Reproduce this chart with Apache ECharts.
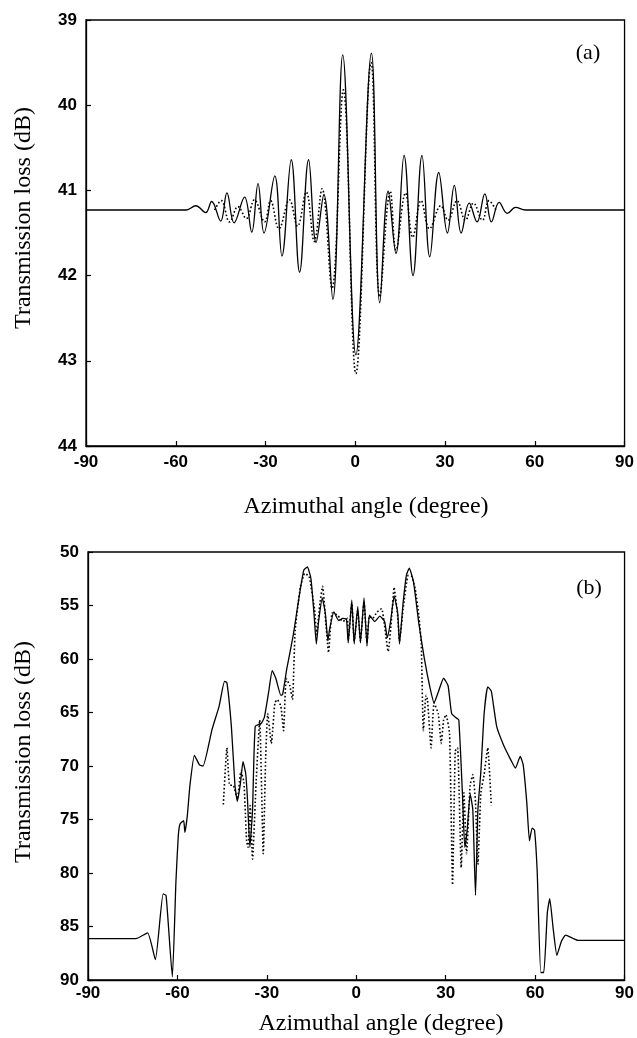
<!DOCTYPE html>
<html>
<head>
<meta charset="utf-8">
<script src="https://cdn.jsdelivr.net/npm/echarts@6/dist/echarts.min.js"></script>
<style>html,body{margin:0;padding:0;background:#fff}#chart{width:637px;height:1038px}</style>
</head>
<body>
<div id="chart"></div>
<script>
// Panel (a): [azimuth deg, transmission loss dB]
const panelASolid = [[-90,41.23],[-56.5,41.23],[-53.3,41.18],[-50,41.26],[-48,41.13],[-45,41.36],[-42.9,41.03],[-40.5,41.38],[-37,41.08],[-34.6,41.49],[-32.5,40.92],[-30.5,41.5],[-26.9,40.83],[-24.5,41.77],[-21.4,40.64],[-18.6,41.96],[-15.6,40.64],[-13.1,41.61],[-10.5,41.05],[-7.5,42.28],[-4.2,39.41],[0.2,42.93],[5.4,39.39],[8.2,42.32],[11,41.01],[13.6,41.74],[16.3,40.59],[19.3,42.0],[22.3,40.59],[24.9,41.78],[27.9,40.79],[30.8,41.5],[33.1,40.94],[35.4,41.5],[38.1,41.15],[40.7,41.37],[43.3,41.04],[45.5,41.37],[48.1,41.14],[50.8,41.27],[53.6,41.2],[56.8,41.23],[90,41.23]];
const panelADotted = [[-47,41.23],[-44.8,41.12],[-42,41.37],[-39.2,41.19],[-36.4,41.33],[-33.7,41.11],[-30.3,41.37],[-28.3,41.12],[-25.5,41.45],[-22,41.11],[-19.3,41.42],[-16.4,41.02],[-13.7,41.6],[-11.1,40.98],[-7.8,42.15],[-4.0,39.82],[0.2,43.15],[5.3,39.5],[8.2,42.25],[11.7,41.01],[13.6,41.7],[16.8,41.03],[19.2,41.55],[22,41.12],[24.8,41.45],[28.6,41.18],[31,41.35],[34,41.12],[36.8,41.35],[39.5,41.15],[42.5,41.35],[44.7,41.12],[47,41.23]];

// Panel (b)
const panelBSolid = [[-90,86.13],[-73.9,86.13],[-70,85.6],[-67.4,88.1],[-64.8,81.95],[-63.8,82.1],[-61.7,89.7],[-60.5,80.8],[-59.7,76.5],[-59.1,75.4],[-57.9,75.1],[-57.5,76.2],[-56.7,74.7],[-55.8,71.8],[-54.3,69.0],[-52.6,69.9],[-51.4,70.0],[-48.4,66.6],[-46,64.4],[-44.2,62.1],[-43.4,62.2],[-41.9,66.3],[-40.7,71.8],[-39.9,73.3],[-38.9,71.7],[-38,69.6],[-37.1,70.7],[-36.5,73.1],[-35.7,77.6],[-34.8,74.1],[-33.9,66.3],[-31.8,66.0],[-30.8,65.4],[-29.4,63.1],[-28.2,61.1],[-27,61.8],[-25.3,63.4],[-24.7,63.3],[-23.3,60.9],[-21.1,57.7],[-19.3,54.4],[-17.6,51.7],[-16.4,51.4],[-15.2,52.5],[-14.2,55.7],[-13.4,58.6],[-12.6,56.4],[-11.4,54.3],[-10.4,55.7],[-9.5,58.3],[-9,57.3],[-7.5,55.6],[-5.9,56.4],[-4.5,56.2],[-3.3,56.3],[-2.7,58.5],[-1.5,54.5],[-0.7,58.6],[0.5,55.1],[1.4,58.5],[2.6,54.3],[3.6,58.8],[4.4,55.9],[6.2,56.5],[7.9,56.0],[9.5,56.5],[10.4,58.0],[11.5,56.5],[12.7,54.1],[13.9,55.7],[14.5,58.6],[15.7,54.8],[16.8,52.2],[17.8,51.5],[19.2,52.8],[21,56.7],[22.8,59.9],[24.6,62.5],[26.1,64.1],[27.5,63.1],[29.3,61.8],[30.8,62.5],[32,65.1],[33.5,65.5],[34.4,65.7],[35.6,72.5],[36.4,77.6],[37.2,76.0],[38.2,72.6],[39.1,74.1],[40,82.1],[40.8,74.1],[41.8,70.5],[42.9,65.1],[44.1,62.6],[45.3,63.0],[47.1,66.3],[49.5,68.1],[51.8,69.4],[53.4,70.2],[55,69.1],[56,69.9],[57.2,73.4],[58.1,77.0],[59,75.8],[59.8,76.0],[60.7,79.9],[61.9,89.3],[62.9,89.3],[64.1,83.7],[64.9,82.4],[66.1,85.3],[67.3,87.7],[68.8,86.4],[70.2,85.8],[72.6,86.1],[74.4,86.3],[90,86.3]];
const panelBDotted = [[-44.6,73.6],[-43.4,68.3],[-42.5,71.8],[-41.3,71.8],[-39.9,73.1],[-38.7,70.5],[-37.7,71.5],[-36.8,77.0],[-36.3,77.6],[-35.6,73.7],[-34.8,78.7],[-33.6,71.5],[-32.4,65.7],[-31.2,78.2],[-30.4,69.2],[-29.7,65.1],[-28.5,67.9],[-27.3,64.1],[-26.5,63.8],[-25.3,64.4],[-24.4,66.7],[-23.5,61.8],[-22.3,62.5],[-21.4,63.8],[-20.5,57.3],[-18.7,53.2],[-17.3,52.0],[-15.8,52.3],[-14,55.4],[-13.3,57.7],[-12.2,54.8],[-11.3,53.2],[-10.2,56.7],[-9.3,59.4],[-8.1,55.7],[-6.3,55.9],[-4.5,56.5],[-3,56.2],[-2.7,58.2],[-1.5,54.8],[-0.7,58.3],[0.5,55.5],[1.4,58.3],[2.6,54.6],[3.6,58.5],[4.4,56],[5.5,56.2],[7,55.6],[8.5,55.3],[10.7,59.3],[11.9,56.0],[12.7,53.3],[13.9,56.0],[14.5,58.3],[15.7,55.4],[17.4,52.2],[18.6,52.3],[19.8,53.5],[21,56.0],[21.8,58.6],[22.5,66.7],[23.4,63.4],[23.9,63.8],[25.1,68.3],[26.1,64.1],[27.5,65.1],[28.5,67.9],[29.3,65.7],[30.1,65.2],[31.3,67.0],[32.3,81.1],[33.2,68.6],[34,68.3],[35.2,79.5],[36.1,72.5],[37,78.2],[38.2,71.8],[39.1,70.8],[40,73.4],[40.8,79.2],[41.8,72.5],[42.9,70.8],[44.1,68.3],[45.3,73.7]];

const xTitle = 'Azimuthal angle (degree)';
const yTitle = 'Transmission loss (dB)';

const chart = echarts.init(document.getElementById('chart'), null, {renderer: 'canvas'});
const tickFont = {color: '#000', fontSize: 17, fontWeight: 'bold', fontFamily: '"Liberation Sans", Arial, sans-serif'};
const axisLine = {show: true, onZero: false, lineStyle: {color: '#000', width: 1.3}};
const axisTick = {show: true, inside: true, length: 5, lineStyle: {color: '#000', width: 1.2}};
function xAx(grid, margin) {
  return {gridIndex: grid, type: 'value', min: -90, max: 90, interval: 30,
    axisLine, axisTick, splitLine: {show: false},
    axisLabel: Object.assign({margin: margin}, tickFont)};
}
function yAx(grid, min, max, interval, margin) {
  return {gridIndex: grid, type: 'value', inverse: true, min, max, interval,
    axisLine, axisTick, splitLine: {show: false},
    axisLabel: Object.assign({margin: margin}, tickFont)};
}
const serif = '"Liberation Serif", "Times New Roman", serif';
function txt(x, y, s, size, rot) {
  return {type: 'text', x, y, rotation: rot || 0,
    style: {text: s, font: size + 'px ' + serif, fill: '#000',
      align: 'center', verticalAlign: 'middle', textAlign: 'center', textVerticalAlign: 'middle'}};
}
const solidStyle = {color: '#000', width: 1.3, type: 'solid'};
const dotStyle = {color: '#000', width: 1.6, type: [1.6, 2.2]};

chart.setOption({
  animation: false,
  backgroundColor: '#fff',
  grid: [
    {left: 86, top: 20, width: 540, height: 426, show: true, borderColor: '#000', borderWidth: 1.3, backgroundColor: 'transparent'},
    {left: 88, top: 552, width: 538, height: 428, show: true, borderColor: '#000', borderWidth: 1.3, backgroundColor: 'transparent'}
  ],
  xAxis: [xAx(0, 8), xAx(1, 5)],
  yAxis: [yAx(0, 39, 44, 1, 9), yAx(1, 50, 90, 5, 9)],
  series: [
    {type: 'line', xAxisIndex: 0, yAxisIndex: 0, data: panelADotted, showSymbol: false, smooth: 0.4, lineStyle: dotStyle, z: 2},
    {type: 'line', xAxisIndex: 0, yAxisIndex: 0, data: panelASolid, showSymbol: false, smooth: 0.4, lineStyle: solidStyle, z: 3},
    {type: 'line', xAxisIndex: 1, yAxisIndex: 1, data: panelBDotted, showSymbol: false, smooth: 0.15, lineStyle: dotStyle, z: 2},
    {type: 'line', xAxisIndex: 1, yAxisIndex: 1, data: panelBSolid, showSymbol: false, smooth: 0.15, lineStyle: solidStyle, z: 3}
  ],
  graphic: [
    txt(24, 218, yTitle, 24, Math.PI / 2),
    txt(24, 752, yTitle, 24, Math.PI / 2),
    txt(366, 507, xTitle, 24),
    txt(381, 1024, xTitle, 24),
    txt(588, 53, '(a)', 22),
    txt(589, 588, '(b)', 22)
  ]
});
</script>
</body>
</html>
